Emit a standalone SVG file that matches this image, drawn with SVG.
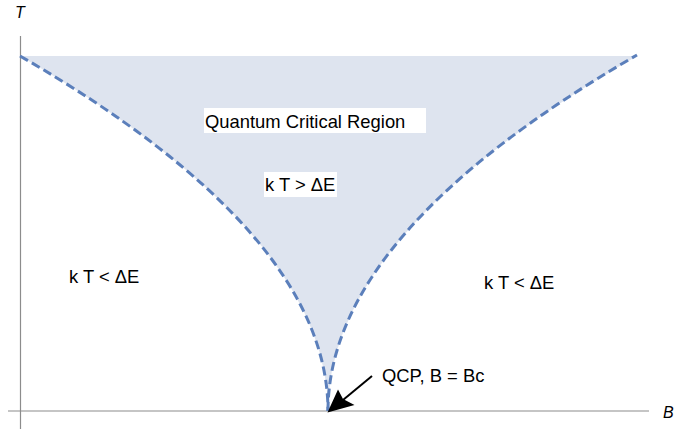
<svg xmlns="http://www.w3.org/2000/svg" width="675" height="429" viewBox="0 0 675 429">
<style>
.axis{stroke:#8c8c8c;stroke-width:1.2;fill:none}
.lbl{font-family:"Liberation Sans",Arial,sans-serif;font-size:18.4px;fill:#000}
.ax{font-family:"Liberation Sans",Arial,sans-serif;font-size:16px;font-style:italic;fill:#000}
.curve{fill:none;stroke:#5b7fbb;stroke-width:3;stroke-dasharray:9 4.5}
.bg{fill:#fff}
</style>
<rect width="675" height="429" fill="#fff"/>
<g id="region">
<path d="M20,56 Q328,233.5 328,411 Q328,233.5 637,56 Z" fill="#dee4ef"/>
</g>
<g id="axes">
<line class="axis" x1="20.5" y1="36" x2="20.5" y2="429"/>
<line class="axis" x1="8" y1="411" x2="649" y2="411"/>
<text class="ax" x="15" y="18">T</text>
<text class="ax" x="663" y="418">B</text>
</g>
<g id="connectors">
<path class="curve" d="M20,56 Q328,233.5 328,411"/>
<path class="curve" d="M328,411 Q328,233.5 637,55"/>
<line x1="372" y1="376" x2="343" y2="400" stroke="#000" stroke-width="2"/>
<polygon points="327.5,412.5 338,389.5 343,399 354.5,405" fill="#000"/>
</g>
<g id="qcr">
<rect class="bg" x="204" y="108" width="222" height="25"/>
<text class="lbl" x="205" y="128">Quantum Critical Region</text>
</g>
<g id="hot">
<rect class="bg" x="264" y="172" width="73" height="25"/>
<text class="lbl" x="265" y="191">k T &gt; ΔE</text>
</g>
<g id="left">
<text class="lbl" x="69" y="283">k T &lt; ΔE</text>
</g>
<g id="right">
<text class="lbl" x="484" y="289">k T &lt; ΔE</text>
</g>
<g id="qcp">
<text class="lbl" x="382" y="382">QCP, B = Bc</text>
</g>
</svg>
